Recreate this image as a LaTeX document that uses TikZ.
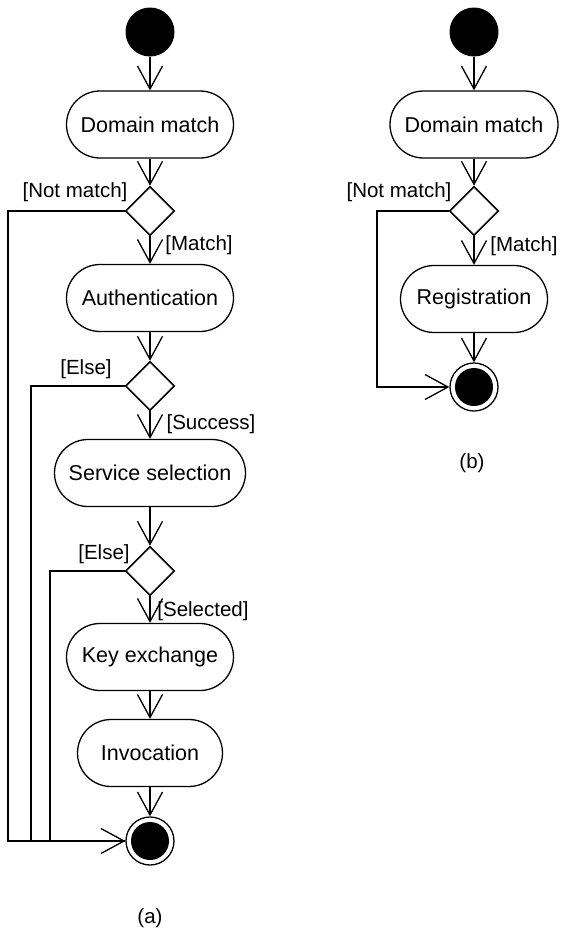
\documentclass[tikz,border=0pt]{standalone}
\usepackage{fontspec}
\setmainfont{Liberation Sans}
\usetikzlibrary{arrows.meta,shapes.geometric}
\begin{document}
\begin{tikzpicture}[x=1pt,y=-1pt,
  every node/.style={font=\fontsize{20.5}{24}\selectfont},
  act/.style={draw,line width=1.3pt,rectangle,rounded corners=33.5pt,minimum height=67pt,inner sep=0pt,font=\fontsize{21.5}{25}\selectfont},
  dec/.style={draw,line width=1.6pt,diamond,aspect=1,minimum width=49pt,minimum height=49pt,inner sep=0pt},
  startnode/.style={circle,fill=black,minimum size=49pt,inner sep=0pt},
  endnode/.style={circle,draw,line width=1.3pt,fill=white,minimum size=48pt,inner sep=0pt,
     path picture={\fill[black] (path picture bounding box.center) circle (19pt);}},
  arr/.style={line width=1.3pt,-{Straight Barb[length=23pt,width=25pt,line width=1.3pt]}},
  lbl/.style={inner sep=0pt}]
\useasboundingbox (0,0) rectangle (561,930);
% ---------- (a)
\node[startnode] (s1) at (150,32) {};
\node[act,minimum width=167pt] (dm1) at (150,124.5) {Domain match};
\node[dec] (d1) at (150,211) {};
\node[act,minimum width=167pt] (au) at (150,298) {Authentication};
\node[dec] (d2) at (150,386) {};
\node[act,minimum width=191pt] (ss) at (150,473) {Service selection};
\node[dec] (d3) at (150,571) {};
\node[act,minimum width=167pt] (ke) at (150,657) {Key exchange};
\node[act,minimum width=145pt] (inv) at (150,753) {Invocation};
\node[endnode] (e1) at (150,841) {};
\node[lbl] (lnm1) at (75,192) {[Not match]};
\node[lbl] (lm1) at (199,245) {[Match]};
\node[lbl] (le1) at (86,369) {[Else]};
\node[lbl] (lsu) at (211,424) {[Success]};
\node[lbl] (le2) at (104,554) {[Else]};
\node[lbl] (lse) at (203,611) {[Selected]};
\node[lbl] (capa) at (150,918) {(a)};
\coordinate (c1) at (8,211);
\coordinate (c2) at (31,386);
\coordinate (c3) at (50,571);
\draw[arr] (s1) -- (dm1);
\draw[arr] (dm1) -- (d1);
\draw[arr] (d1) -- (au);
\draw[arr] (au) -- (d2);
\draw[arr] (d2) -- (ss);
\draw[arr] (ss) -- (d3);
\draw[arr] (d3) -- (ke);
\draw[arr] (ke) -- (inv);
\draw[arr] (inv) -- (e1);
\draw[line width=1.3pt] (d1.west) -- (c1) |- (e1.west);
\draw[line width=1.3pt] (d2.west) -- (c2) |- (e1.west);
\draw[arr] (d3.west) -- (c3) |- (e1.west);
% ---------- (b)
\node[startnode] (s2) at (474,32) {};
\node[act,minimum width=168pt] (dm2) at (474,124.5) {Domain match};
\node[dec] (d4) at (474,211) {};
\node[act,minimum width=147pt] (reg) at (474,299) {Registration};
\node[endnode] (e2) at (474,387) {};
\node[lbl] (lnm2) at (399,192) {[Not match]};
\node[lbl] (lm2) at (524,246) {[Match]};
\node[lbl] (capb) at (472,463) {(b)};
\coordinate (c4) at (377,211);
\draw[arr] (s2) -- (dm2);
\draw[arr] (dm2) -- (d4);
\draw[arr] (d4) -- (reg);
\draw[arr] (reg) -- (e2);
\draw[arr] (d4.west) -- (c4) |- (e2.west);
\end{tikzpicture}
\end{document}
